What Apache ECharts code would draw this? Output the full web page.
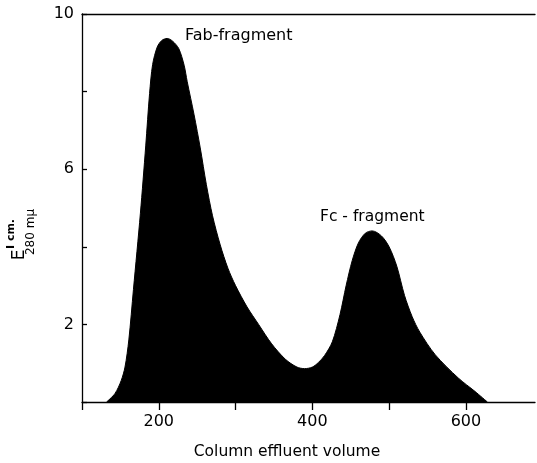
<!DOCTYPE html>
<html>
<head>
<meta charset="utf-8">
<script src="https://cdn.jsdelivr.net/npm/echarts@6/dist/echarts.min.js"></script>
<style>html,body{margin:0;padding:0;background:#fff;}#c{width:537px;height:463px;}</style>
</head>
<body>
<div id="c"></div>
<script>
// Column effluent volume (x) and absorbance E(1cm, 280 mμ) (y)
const volume = [132,143,151,156,161,167,176,183,188,192,198,204,211,218,226,233,237,246,254,262,270,280,290,300,315,330,347,365,380,390,400,408,416,426,436,444,452,460,469,478,490,500,510,520,530,540,560,590,612,628];
const absorbance = [0,0.22,0.55,0.9,1.6,2.9,4.85,6.6,7.95,8.7,9.15,9.32,9.37,9.3,9.11,8.68,8.26,7.4,6.55,5.6,4.8,4.05,3.45,3.0,2.45,2.0,1.5,1.1,0.9,0.86,0.9,1.02,1.2,1.55,2.25,3.0,3.65,4.1,4.35,4.41,4.28,4.0,3.5,2.75,2.2,1.8,1.22,0.62,0.27,0];
const xTickValues = [100, 200, 300, 400, 500, 600];
const xTickLabels = [200, 400, 600];
const yTickLabels = [2, 6, 10];
const peakLabels = ["Fab-fragment", "Fc - fragment"];
const xTitle = "Column effluent volume";

const font = "DejaVu Sans";
const chart = echarts.init(document.getElementById('c'), null, {renderer: 'canvas'});
const data = volume.map((v, i) => [v, absorbance[i]]);

chart.setOption({
  backgroundColor: '#fff',
  animation: false,
  grid: {left: 82, right: 2, top: 14, bottom: 61, containLabel: false},
  xAxis: [{
    type: 'value', min: 100, max: 690, interval: 100,
    axisLine: {show: true, lineStyle: {color: '#000', width: 1.3}},
    axisTick: {show: true, inside: false, length: 8, customValues: xTickValues, lineStyle: {color: '#000', width: 1.3}},
    axisLabel: {
      color: '#000', fontFamily: font, fontSize: 16, margin: 12, customValues: xTickLabels,
      formatter: v => xTickLabels.indexOf(v) >= 0 ? String(v) : ''
    },
    splitLine: {show: false}
  }, {
    type: 'value', position: 'top', min: 100, max: 690,
    axisLine: {show: true, onZero: false, lineStyle: {color: '#000', width: 1.3}},
    axisTick: {show: false}, axisLabel: {show: false}, splitLine: {show: false}
  }],
  yAxis: {
    type: 'value', min: 0, max: 10, interval: 2,
    axisLine: {show: true, lineStyle: {color: '#000', width: 1.3}},
    axisTick: {show: true, inside: true, length: 5, lineStyle: {color: '#000', width: 1.3}},
    axisLabel: {
      color: '#000', fontFamily: font, fontSize: 16, margin: 8,
      formatter: v => yTickLabels.indexOf(v) >= 0 ? String(v) : ''
    },
    splitLine: {show: false}
  },
  series: [{
    type: 'line', data: data, xAxisIndex: 0, smooth: 0.3, showSymbol: false,
    lineStyle: {color: '#000', width: 1},
    areaStyle: {color: '#000', opacity: 1}
  }],
  graphic: [
    {type: 'text', left: 185, top: 28, style: {text: peakLabels[0], font: '16px "DejaVu Sans"', fill: '#000'}},
    {type: 'text', left: 320, top: 209, style: {text: peakLabels[1], font: '15.5px "DejaVu Sans"', fill: '#000'}},
    {type: 'text', x: 287, y: 452, style: {text: xTitle, font: '15.5px "DejaVu Sans"', fill: '#000', align: 'center', verticalAlign: 'middle'}},
    {type: 'text', x: 20, y: 255, rotation: Math.PI / 2, style: {text: 'E', font: '17px "DejaVu Sans"', fill: '#000', align: 'center', verticalAlign: 'middle'}},
    {type: 'text', x: 11, y: 234, rotation: Math.PI / 2, style: {text: 'I cm.', font: 'bold 11px "DejaVu Sans"', fill: '#000', align: 'center', verticalAlign: 'middle'}},
    {type: 'text', x: 31, y: 232, rotation: Math.PI / 2, style: {text: '280 mμ', font: '12px "DejaVu Sans"', fill: '#000', align: 'center', verticalAlign: 'middle'}}
  ]
});
</script>
</body>
</html>
